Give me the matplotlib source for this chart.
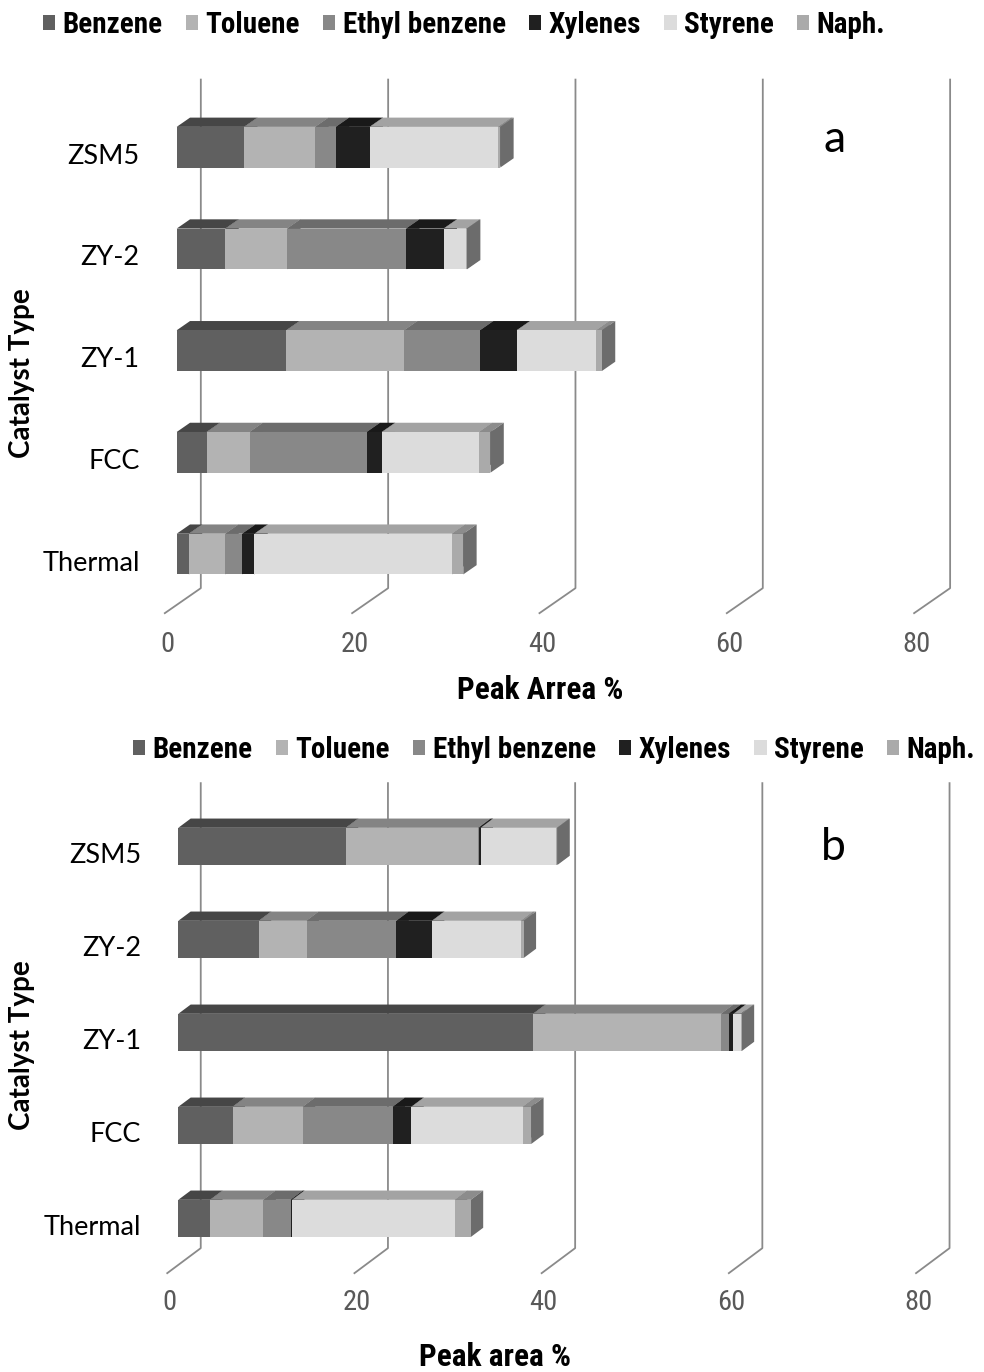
import matplotlib
matplotlib.use("Agg")
import numpy as np
import matplotlib.pyplot as plt
from matplotlib import font_manager
from matplotlib.patches import Polygon, Patch
from matplotlib.lines import Line2D
from matplotlib.transforms import IdentityTransform, ScaledTranslation

# ---------------------------------------------------------------- data
categories = ["Thermal", "FCC", "ZY-1", "ZY-2", "ZSM5"]
series = ["Benzene", "Toluene", "Ethyl benzene", "Xylenes", "Styrene", "Naph."]
x_ticks = [0, 20, 40, 60, 80]

# panel a  (peak area %, one value per catalyst in category order)
benzene_a = [1.3, 3.2, 11.7, 5.2, 7.2]
toluene_a = [3.9, 4.6, 12.6, 6.6, 7.6]
ethylbenzene_a = [1.8, 12.5, 8.1, 12.7, 2.2]
xylenes_a = [1.3, 1.6, 3.9, 4.0, 3.6]
styrene_a = [21.1, 10.4, 8.5, 2.4, 13.7]
naph_a = [1.2, 1.2, 0.6, 0.1, 0.25]

# panel b
benzene_b = [3.4, 5.8, 37.9, 8.6, 17.9]
toluene_b = [5.7, 7.5, 20.1, 5.1, 14.1]
ethylbenzene_b = [2.9, 9.6, 0.8, 9.6, 0.1]
xylenes_b = [0.15, 2.0, 0.5, 3.8, 0.2]
styrene_b = [17.4, 11.9, 0.8, 9.5, 8.1]
naph_b = [1.7, 0.9, 0.1, 0.3, 0.1]

# ---------------------------------------------------------------- style
FRONT = ["#606060", "#b3b3b3", "#888888", "#202020", "#dcdcdc", "#aaaaaa"]
TOP = ["#464646", "#848484", "#6c6c6c", "#191919", "#a3a3a3", "#8c8c8c"]
SIDE = ["#3c3c3c", "#787878", "#5e5e5e", "#141414", "#7c7c7c", "#6c6c6c"]
GRID = "#8a8a8a"
TICK_COLOR = "#595959"
BAR_H = 0.4

avail = {f.name for f in font_manager.fontManager.ttflist}


def first(*names):
    return next((n for n in names if n in avail), "DejaVu Sans")


NARROW = first("Liberation Sans Narrow", "Arial Narrow", "Roboto Condensed", "Liberation Sans")
HUMAN = first("Lato", "Open Sans", "Noto Sans")
is_narrow = NARROW != "Liberation Sans"
NS = 1.0 if is_narrow else 0.85

W, H = 984, 1372
fig = plt.figure(figsize=(W / 100, H / 100), dpi=100)


def axes_px(x0, x1, y_top, y_bottom):
    return fig.add_axes([x0 / W, 1 - y_bottom / H, (x1 - x0) / W, (y_bottom - y_top) / H])


def draw_panel(ax, stacks, depth, xlabel, xlab_pos, ylab_pos, tick_drop):
    ax.set_xlim(0, 80)
    ax.set_ylim(-0.5, 4.5)
    ax.set_autoscale_on(False)
    for s in ax.spines.values():
        s.set_visible(False)
    ax.patch.set_visible(False)
    ax.set_xticks([])
    ax.set_yticks([])

    T = ax.transData
    dvx, dvy = depth
    d0, d1 = 0.33, 0.70

    def pt(x, y, d):
        px, py = T.transform((x, y))
        return (px + (d - d0) * dvx, py + (d - d0) * dvy)

    # back-wall gridlines folding down onto the floor
    for t in x_ticks:
        pts = [pt(t, 4.5, 1.0), pt(t, -0.5, 1.0), pt(t, -0.5, 0.0)]
        xs, ys = zip(*pts)
        ax.add_line(Line2D(xs, ys, transform=IdentityTransform(), color=GRID,
                           lw=1.3, clip_on=False, zorder=1))

    ypos = np.arange(len(categories))
    left = np.zeros(len(categories))
    for i, vals in enumerate(stacks):
        vals = np.asarray(vals, float)
        ax.barh(ypos, vals, left=left, height=BAR_H, color=FRONT[i],
                linewidth=0, zorder=3 + 2 * i, clip_on=False)
        for y, l, v in zip(ypos, left, vals):
            if v <= 0:
                continue
            r = l + v
            top, bot = y + BAR_H / 2, y - BAR_H / 2
            top_face = [pt(l, top, d0), pt(r, top, d0), pt(r, top, d1), pt(l, top, d1)]
            side_face = [pt(r, bot, d0), pt(r, top, d0), pt(r, top, d1), pt(r, bot, d1)]
            ax.add_patch(Polygon(top_face, closed=True, transform=IdentityTransform(),
                                 fc=TOP[i], ec="none", zorder=2 + 2 * i, clip_on=False))
            ax.add_patch(Polygon(side_face, closed=True, transform=IdentityTransform(),
                                 fc=SIDE[i], ec="none", zorder=2 + 2 * i, clip_on=False))
        left = left + vals

    # category labels at the front edge of the floor
    for y, name in zip(ypos, categories):
        ax.text(0, y, name, ha="right", va="center", family=HUMAN, fontsize=19.5,
                color="black",
                transform=T + ScaledTranslation(-0.37, -0.09, fig.dpi_scale_trans))
    # value axis labels along the floor front
    for t in x_ticks:
        ax.text(t, -0.5, str(t), ha="center", va="center", family=NARROW,
                fontsize=20.5 * NS, color=TICK_COLOR,
                transform=T + ScaledTranslation(-0.09, -tick_drop / 100, fig.dpi_scale_trans))

    ax.text(*xlab_pos, xlabel, transform=ax.transAxes, ha="center", va="center",
            family=NARROW, fontweight="bold", fontsize=22.5 * NS)
    ax.text(*ylab_pos, "Catalyst Type", transform=ax.transAxes, ha="center", va="center",
            rotation=90, family=HUMAN, fontweight="bold", fontsize=20)


def add_legend(center_px):
    handles = [Patch(facecolor=c, edgecolor="none") for c in FRONT]
    leg = fig.legend(handles, series, loc="center", ncol=6, frameon=False,
                     bbox_to_anchor=(center_px[0] / W, 1 - center_px[1] / H),
                     prop=font_manager.FontProperties(family=NARROW, weight="bold",
                                                      size=21 * NS),
                     handlelength=0.42, handleheight=0.42, handletextpad=0.25,
                     columnspacing=0.8, borderpad=0, borderaxespad=0)
    return leg


# panel a
ax_a = axes_px(176.7, 926.0, 96.35, 604.9)
draw_panel(ax_a, [benzene_a, toluene_a, ethylbenzene_a, xylenes_a, styrene_a, naph_a],
           (36.0, 25.0), "Peak Arrea %", (0.485, -0.167), (-0.2065, 0.456), 40)
add_legend((464, 25))
fig.text(835 / W, 1 - 140 / H, "a", ha="center", va="center", family=HUMAN, fontsize=32)

# panel b
ax_b = axes_px(178.3, 927.1, 799.9, 1264.9)
draw_panel(ax_b, [benzene_b, toluene_b, ethylbenzene_b, xylenes_b, styrene_b, naph_b],
           (33.5, 25.0), "Peak area %", (0.423, -0.198), (-0.2087, 0.473), 38)
add_legend((554, 750))
fig.text(833 / W, 1 - 848 / H, "b", ha="center", va="center", family=HUMAN, fontsize=32)

fig.savefig("out.png", dpi=100, facecolor="white")
